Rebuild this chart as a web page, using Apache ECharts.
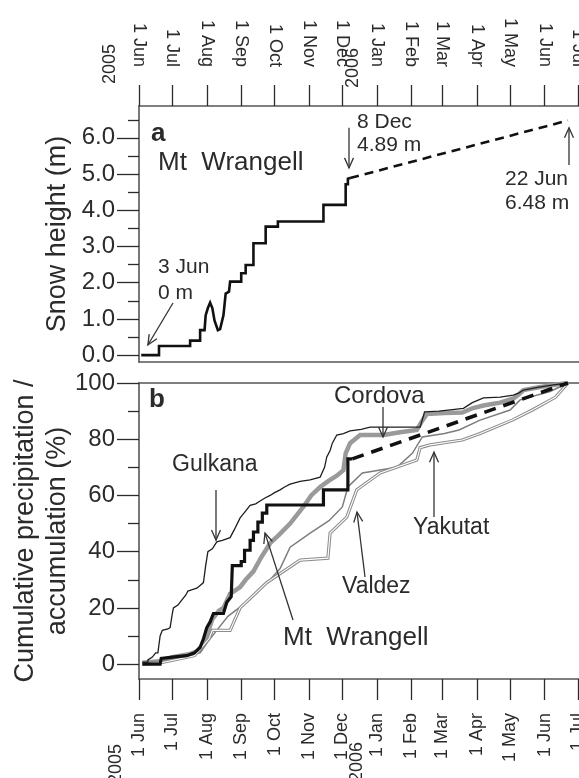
<!DOCTYPE html>
<html>
<head>
<meta charset="utf-8">
<script src="https://cdn.jsdelivr.net/npm/echarts@6/dist/echarts.min.js"></script>
<style>
html, body { margin: 0; padding: 0; background: #fff; }
#chart { width: 579px; height: 778px; }
</style>
</head>
<body>
<div id="chart"></div>
<script>
// x values are days counted from 1 Jun 2005
const monthDays = [0, 30, 61, 92, 122, 153, 183, 214, 245, 273, 304, 334, 365, 395];
const monthLabels = ['1 Jun', '1 Jul', '1 Aug', '1 Sep', '1 Oct', '1 Nov', '1 Dec',
  '1 Jan', '1 Feb', '1 Mar', '1 Apr', '1 May', '1 Jun', '1 Jul'];
const snowTicks = [0, 1, 2, 3, 4, 5, 6];
const snowMinorTicks = [0.5, 1.5, 2.5, 3.5, 4.5, 5.5, 6.5];
const pctTicks = [0, 20, 40, 60, 80, 100];
const pctMinorTicks = [10, 30, 50, 70, 90];

// panel a: snow height at Mt Wrangell (m)
const snowMeasured = [[2, 0], [18, 0], [18, 0.25], [46, 0.25], [46, 0.4], [55, 0.4], [55, 0.69], [59, 0.69],
  [60, 1.1], [62, 1.3], [64, 1.45], [66, 1.3], [68, 0.95], [71, 0.69], [73, 0.72], [76, 1.1], [78, 1.7],
  [81, 1.75], [82, 2.03], [92, 2.03], [92, 2.26], [96, 2.26], [96, 2.49], [103, 2.49], [103, 3.09],
  [114, 3.09], [114, 3.55], [125, 3.55], [125, 3.69], [166, 3.69], [166, 4.15], [186, 4.15], [186, 4.72],
  [188, 4.72], [188, 4.87], [190, 4.89]];
const snowInterp = [[190, 4.89], [386, 6.48]];

// panel b: cumulative precipitation / accumulation (%)
const gulkana = [[3, 0.7], [8, 0.7], [8, 1.5], [12, 2.5], [15, 4], [17, 4], [19, 10], [21, 12], [26, 12.5],
  [28, 13], [30, 18], [31, 20], [35, 21], [39, 23], [42, 24.5], [44, 26], [48, 26.5], [52, 27], [55, 28],
  [58, 29], [60, 35], [62, 40], [66, 41], [70, 43.5], [75, 44], [82, 45], [86, 48], [91, 52], [95, 54],
  [100, 56.5], [105, 57], [109, 58], [113, 59], [118, 60], [122, 61], [127, 62], [131, 63], [136, 64],
  [145, 65], [154, 65.5], [163, 66.5], [167, 70], [169, 73.7], [172, 76], [174, 78.6], [178, 81.5],
  [184, 82], [190, 83], [200, 83.5], [208, 84.3], [253, 84.3], [255, 87], [257, 89.7], [270, 90],
  [292, 91], [300, 93], [310, 94.7], [325, 95], [337, 95.7], [342, 96.5], [346, 97.5], [360, 98.5],
  [373, 99.3], [386, 100]];
const cordova = [[3, 0.5], [19, 1], [30, 2.5], [45, 3.5], [55, 5], [61, 10], [66, 16], [72, 19], [76, 20],
  [82, 25], [91, 27.4], [96, 30], [103, 33], [110, 38], [118, 43], [126, 46], [136, 50], [142, 53],
  [148, 56], [155, 60], [163, 63], [170, 65], [178, 67], [184, 69], [186, 75], [190, 78.6], [199, 81.5],
  [220, 81.5], [235, 82.5], [250, 83.3], [254, 86], [259, 89], [275, 89.3], [291, 89.5], [300, 91],
  [310, 92], [325, 93], [337, 94.5], [342, 96], [346, 97.5], [360, 98.5], [373, 99.3], [386, 100]];
const valdez = [[3, 0.3], [20, 1], [40, 2.5], [55, 4], [62, 8], [70, 12], [80, 17], [90, 20], [100, 23],
  [110, 27], [118, 30], [127, 34], [136, 41.6], [154, 46.6], [171, 51], [183, 55.9], [188, 63], [201, 68],
  [232, 70], [246, 75], [255, 80.8], [275, 82], [288, 83.3], [307, 86.8], [334, 90.4], [343, 94],
  [370, 97], [386, 100]];
const yakutat = [[3, 0], [20, 0.5], [50, 3], [63, 9], [66, 12], [82, 12], [91, 20], [115, 29], [145, 37],
  [170, 37.7], [172, 46.6], [187, 52.3], [196, 62], [217, 68], [250, 72.6], [253, 77], [262, 78],
  [291, 79.7], [307, 82], [336, 86.8], [354, 90.4], [375, 95], [386, 100]];
const wrangellMeasured = [[3, 0], [19, 0], [20, 2], [30, 2.5], [43, 3], [50, 4], [55, 6], [58, 9], [61, 13],
  [64, 15], [67, 18], [76, 18], [79, 22], [83, 24], [84, 24], [84, 35], [92, 35], [92, 36.5], [95, 36.5],
  [95, 40.5], [100, 40.5], [100, 44], [103, 44], [103, 47], [107, 47], [107, 50.5], [111, 50.5],
  [111, 53.7], [115, 53.7], [115, 56.6], [166, 56.6], [166, 62], [188, 62], [188, 73], [192, 73]];
const wrangellInterp = [[192, 73], [386, 100]];

const FONT = '"Liberation Sans", Arial, sans-serif';
const INK = '#2b2b2b';
const FRAME = '#555';

const chart = echarts.init(document.getElementById('chart'));

function dayLabel(v) {
  const i = monthDays.indexOf(Math.round(v));
  return i < 0 ? '' : monthLabels[i];
}

function monthAxis(gridIndex, position, withTicks, margin) {
  return {
    type: 'value', gridIndex, position, min: 0, max: 396,
    axisLine: { show: true, onZero: false, lineStyle: { color: FRAME, width: 1.6 } },
    axisTick: { show: withTicks, customValues: monthDays, length: 21, lineStyle: { color: INK, width: 1.3 } },
    axisLabel: {
      show: withTicks, customValues: monthDays, rotate: 90, margin: margin,
      fontSize: 18, fontFamily: FONT, color: INK, formatter: dayLabel
    },
    splitLine: { show: false }
  };
}

function valueAxis(gridIndex, min, max, major, name, nameGap, decimals) {
  return {
    type: 'value', gridIndex, min, max, position: 'left',
    name, nameLocation: 'middle', nameGap, nameRotate: 90, nameMoveOverlap: false,
    nameTextStyle: { fontSize: 27, fontFamily: FONT, color: INK, lineHeight: 32 },
    axisLine: { show: true, onZero: false, lineStyle: { color: FRAME, width: 1.6 } },
    axisTick: { show: true, customValues: major, length: 22, lineStyle: { color: INK, width: 1.3 } },
    axisLabel: {
      customValues: major, margin: 24, fontSize: 24, fontFamily: FONT, color: INK,
      formatter: v => v.toFixed(decimals)
    },
    splitLine: { show: false }
  };
}

function minorAxis(gridIndex, min, max, minor) {
  return {
    type: 'value', gridIndex, min, max, position: 'left',
    axisLine: { show: false },
    axisTick: { show: true, customValues: minor, length: 11, lineStyle: { color: INK, width: 1.3 } },
    axisLabel: { show: false },
    splitLine: { show: false }
  };
}

function lineSeries(name, data, xAxisIndex, yAxisIndex, color, width, type, z) {
  return {
    name, type: 'line', data, xAxisIndex, yAxisIndex, showSymbol: false, symbol: 'none',
    lineStyle: { color, width, type: type || 'solid', cap: 'butt', join: 'miter' },
    z: z || 2, animation: false, silent: true
  };
}

chart.setOption({
  animation: false,
  grid: [
    { left: 139, top: 106, width: 440, height: 256, outerBoundsMode: 'none' },
    { left: 139, top: 383, width: 440, height: 296, outerBoundsMode: 'none' }
  ],
  xAxis: [
    monthAxis(0, 'top', true, 39),
    monthAxis(0, 'bottom', false, 0),
    monthAxis(1, 'top', false, 0),
    monthAxis(1, 'bottom', true, 34)
  ],
  yAxis: [
    valueAxis(0, -0.19, 6.88, snowTicks, 'Snow height (m)', 65, 1),
    minorAxis(0, -0.19, 6.88, snowMinorTicks),
    valueAxis(1, -5.3, 100, pctTicks, 'Cumulative precipitation /\naccumulation (%)', 65, 0),
    minorAxis(1, -5.3, 100, pctMinorTicks)
  ],
  series: [
    lineSeries('Mt Wrangell snow', snowMeasured, 0, 0, '#111', 2.6),
    lineSeries('Mt Wrangell snow interpolated', snowInterp, 0, 0, '#111', 2.6, [9, 6]),
    lineSeries('Cordova', cordova, 3, 2, '#9a9a9a', 4.5, null, 2),
    lineSeries('Valdez', valdez, 3, 2, '#7d7d7d', 1.5, null, 3),
    lineSeries('Yakutat', yakutat, 3, 2, '#8c8c8c', 3.2, null, 3),
    lineSeries('Yakutat core', yakutat, 3, 2, '#ffffff', 1.1, null, 4),
    lineSeries('Gulkana', gulkana, 3, 2, '#1e1e1e', 1.3, null, 5),
    lineSeries('Mt Wrangell', wrangellMeasured, 3, 2, '#111', 3.2, null, 6),
    lineSeries('Mt Wrangell interpolated', wrangellInterp, 3, 2, '#111', 3.6, [12, 8], 6)
  ]
});

// annotations: texts and open arrows pointing at data locations
const elements = [];

function text(str, x, y, size, opts) {
  opts = opts || {};
  elements.push({
    type: 'text', x, y, rotation: opts.rotation || 0, z: 20,
    style: {
      text: str, fill: INK, font: (opts.bold ? 'bold ' : '') + size + 'px ' + FONT,
      align: opts.align || 'left', verticalAlign: 'middle'
    }
  });
}

function arrow(gridIndex, from, to) {
  const xa = gridIndex === 0 ? 0 : 3, ya = gridIndex === 0 ? 0 : 2;
  const p1 = chart.convertToPixel({ xAxisIndex: xa, yAxisIndex: ya }, from);
  const p2 = chart.convertToPixel({ xAxisIndex: xa, yAxisIndex: ya }, to);
  const ang = Math.atan2(p2[1] - p1[1], p2[0] - p1[0]);
  const L = 11, A = 0.42;
  const h1 = [p2[0] - L * Math.cos(ang - A), p2[1] - L * Math.sin(ang - A)];
  const h2 = [p2[0] - L * Math.cos(ang + A), p2[1] - L * Math.sin(ang + A)];
  const st = { stroke: '#333', lineWidth: 1.3, fill: null };
  elements.push({ type: 'line', z: 20, shape: { x1: p1[0], y1: p1[1], x2: p2[0], y2: p2[1] }, style: st });
  elements.push({ type: 'polyline', z: 20, shape: { points: [h1, p2, h2] }, style: st });
}

// panel a
text('a', 151, 134, 26, { bold: true });
text('Mt  Wrangell', 158, 163, 26);
text('3 Jun', 158, 267, 21);
text('0 m', 158, 293, 21);
text('8 Dec', 357, 122, 21);
text('4.89 m', 357, 145, 21);
text('22 Jun', 505, 179, 21);
text('6.48 m', 505, 203, 21);
arrow(0, [30.6, 1.44], [8, 0.28]);
arrow(0, [189, 6.28], [189, 5.17]);
arrow(0, [387, 5.25], [387, 6.28]);

// panel b
text('b', 149, 400, 26, { bold: true });
text('Gulkana', 172, 465, 23);
text('Cordova', 334, 396, 24);
text('Yakutat', 413, 528, 23);
text('Valdez', 342, 587, 23);
text('Mt  Wrangell', 283, 638, 26);
arrow(1, [69.3, 61.9], [69.3, 44.1]);
arrow(1, [219.6, 91.5], [219.6, 80.8]);
arrow(1, [265.5, 52.3], [265.5, 75.4]);
arrow(1, [203.4, 31], [196.2, 54.1]);
arrow(1, [138.6, 15.7], [113.4, 46.6]);

// year markers on the date axes
text('2005', 110, 84, 18, { rotation: Math.PI / 2 });
text('2006', 353, 88, 18, { rotation: Math.PI / 2 });
text('2005', 116, 784, 18, { rotation: Math.PI / 2 });
text('2006', 357, 782, 18, { rotation: Math.PI / 2 });

chart.setOption({ graphic: { elements } });
</script>
</body>
</html>
